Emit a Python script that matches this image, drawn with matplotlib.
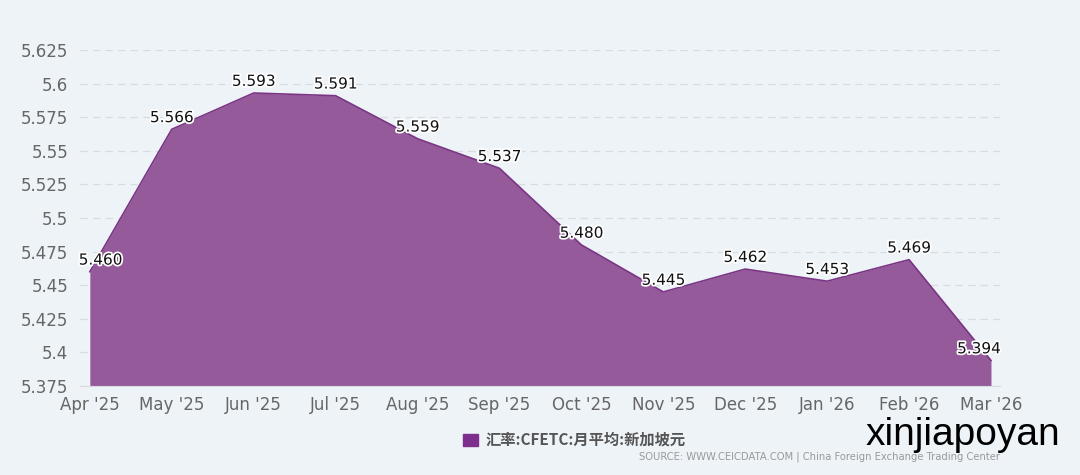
import matplotlib
matplotlib.use("Agg")
import matplotlib.pyplot as plt
import matplotlib.patheffects as pe
from matplotlib.patches import Rectangle

months = ["Apr '25", "May '25", "Jun '25", "Jul '25", "Aug '25", "Sep '25",
          "Oct '25", "Nov '25", "Dec '25", "Jan '26", "Feb '26", "Mar '26"]
values = [5.460, 5.566, 5.593, 5.591, 5.559, 5.537,
          5.480, 5.445, 5.462, 5.453, 5.469, 5.394]
yticks = [5.375, 5.4, 5.425, 5.45, 5.475, 5.5, 5.525, 5.55, 5.575, 5.6, 5.625]
ytick_labels = ["5.375", "5.4", "5.425", "5.45", "5.475", "5.5", "5.525",
                "5.55", "5.575", "5.6", "5.625"]
series_name = "汇率:CFETC:月平均:新加坡元"
source_text = "SOURCE: WWW.CEICDATA.COM | China Foreign Exchange Trading Center"

plt.rcParams['font.family'] = ['DejaVu Sans', 'Noto Sans CJK SC']

bg = "#EEF3F8"
fig = plt.figure(figsize=(10.8, 4.75), dpi=100, facecolor=bg)
ax = fig.add_axes([80/1080, 1-386/475, 920/1080, 336/475])
ax.set_facecolor(bg)

x = list(range(len(months)))
ax.fill_between(x, values, 5.375, color="#955A9A", linewidth=0, zorder=2)
ax.plot(x, values, color="#7A3585", linewidth=1.2, zorder=3)

ax.set_xlim(-0.12, 11.11)
ax.set_ylim(5.375, 5.625)
ax.set_yticks(yticks)
ax.set_yticklabels(ytick_labels)
ax.set_xticks(x)
ax.set_xticklabels(months)
ax.grid(axis='y', color="#D8DCE0", linestyle=(0, (6, 4)), linewidth=0.9, zorder=1)
ax.grid(axis='x', visible=False)
for s in ['top', 'right', 'left']:
    ax.spines[s].set_visible(False)
ax.spines['bottom'].set_color("#D8DCE0")
ax.tick_params(axis='both', length=0, labelsize=12, colors="#666666", pad=7)
ax.tick_params(axis='y', pad=8.5)

for i, v in enumerate(values):
    dx = 0
    ha = 'center'
    if i == 0:
        dx = -8
        ha = 'left'
    elif i == len(values) - 1:
        dx = 7
        ha = 'right'
    ax.annotate(f"{v:.3f}", (i, v), xytext=(dx, 3), textcoords='offset points',
                ha=ha, va='bottom', fontsize=11, color="#111111", zorder=5,
                path_effects=[pe.withStroke(linewidth=2.5, foreground="white")])

# legend
fig.patches.append(Rectangle((463/1080, 1-446/475), 15/1080, 12/475,
                             transform=fig.transFigure, color="#7E2F8E", figure=fig))
fig.text(486/1080, 1-440/475, series_name, fontsize=11, color="#555555",
         fontweight='bold', va='center', ha='left',
         family=['Noto Sans CJK SC', 'DejaVu Sans'])
fig.text(1000/1080, 1-457/475, source_text, fontsize=7.2, color="#999999",
         va='center', ha='right', family=['Liberation Sans Narrow', 'DejaVu Sans'])
fig.text(1060/1080, 1-435/475, "xinjiapoyan", fontsize=28, color="black",
         va='center', ha='right', family=['Liberation Sans', 'DejaVu Sans'])

fig.savefig("out.png", dpi=100, facecolor=bg)
